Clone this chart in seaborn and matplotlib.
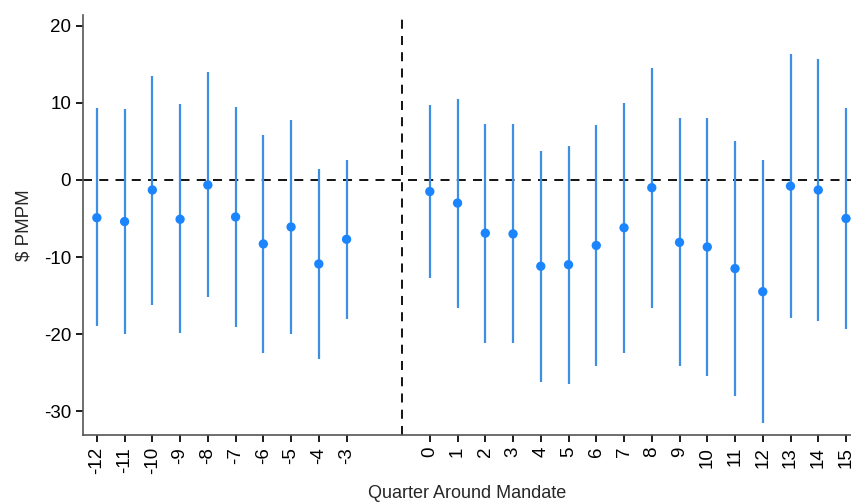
import matplotlib
matplotlib.use("Agg")
import matplotlib.pyplot as plt
import seaborn as sns
import pandas as pd

# event-study estimates
quarters = [-12, -11, -10, -9, -8, -7, -6, -5, -4, -3,
            0, 1, 2, 3, 4, 5, 6, 7, 8, 9, 10, 11, 12, 13, 14, 15]
estimate = [-4.9, -5.4, -1.3, -5.1, -0.65, -4.8, -8.3, -6.1, -10.9, -7.7,
            -1.5, -3.0, -6.9, -7.0, -11.2, -11.0, -8.5, -6.2, -1.0, -8.1, -8.7, -11.5, -14.5, -0.8, -1.3, -5.0]
ci_upper = [9.3, 9.2, 13.5, 9.8, 14.0, 9.5, 5.9, 7.8, 1.4, 2.6,
            9.7, 10.5, 7.3, 7.3, 3.8, 4.4, 7.1, 10.0, 14.6, 8.1, 8.0, 5.1, 2.6, 16.3, 15.7, 9.3]
ci_lower = [-19.0, -20.0, -16.2, -19.9, -15.2, -19.1, -22.4, -20.0, -23.2, -18.1,
            -12.7, -16.6, -21.1, -21.2, -26.2, -26.5, -24.2, -22.4, -16.6, -24.2, -25.5, -28.1, -31.6, -17.9, -18.3, -19.4]

df = pd.DataFrame({"quarter": quarters, "est": estimate, "lo": ci_lower, "hi": ci_upper})

sns.set_theme(style="ticks")
plt.rcParams["font.family"] = ["Liberation Sans", "DejaVu Sans"]
plt.rcParams["axes.unicode_minus"] = False

fig = plt.figure(figsize=(8.51, 5.04), dpi=100)
ax = fig.add_axes([0.0975, 0.137, 0.9025, 0.833])

ax.axhline(0, color="black", lw=1.3, ls=(0, (5, 4)), zorder=1)
ax.axvline(-1, color="black", lw=1.3, ls=(0, (5, 4)), zorder=1)
ax.vlines(df["quarter"], df["lo"], df["hi"], color="#3d8fe3", lw=1.6, zorder=2)
sns.scatterplot(data=df, x="quarter", y="est", ax=ax, color="#1a85ff",
                s=45, edgecolor="none", zorder=3)

ax.set_xlim(-12.5, 15.18)
ax.set_ylim(-33.1, 21.4)
ax.set_yticks([-30, -20, -10, 0, 10, 20])
ax.set_xticks(quarters)
ax.set_xticklabels([str(q) for q in quarters], rotation=90)
ax.tick_params(labelsize=13.5, colors="black", length=5)
for s in ["left", "bottom"]:
    ax.spines[s].set_color("#555555")
    ax.spines[s].set_linewidth(1.2)
sns.despine(ax=ax)

ax.set_xlabel("Quarter Around Mandate", fontsize=13, labelpad=8)
ax.set_ylabel(r"\$ PMPM", fontsize=13.5, labelpad=8)

fig.savefig("out.png", dpi=100)
